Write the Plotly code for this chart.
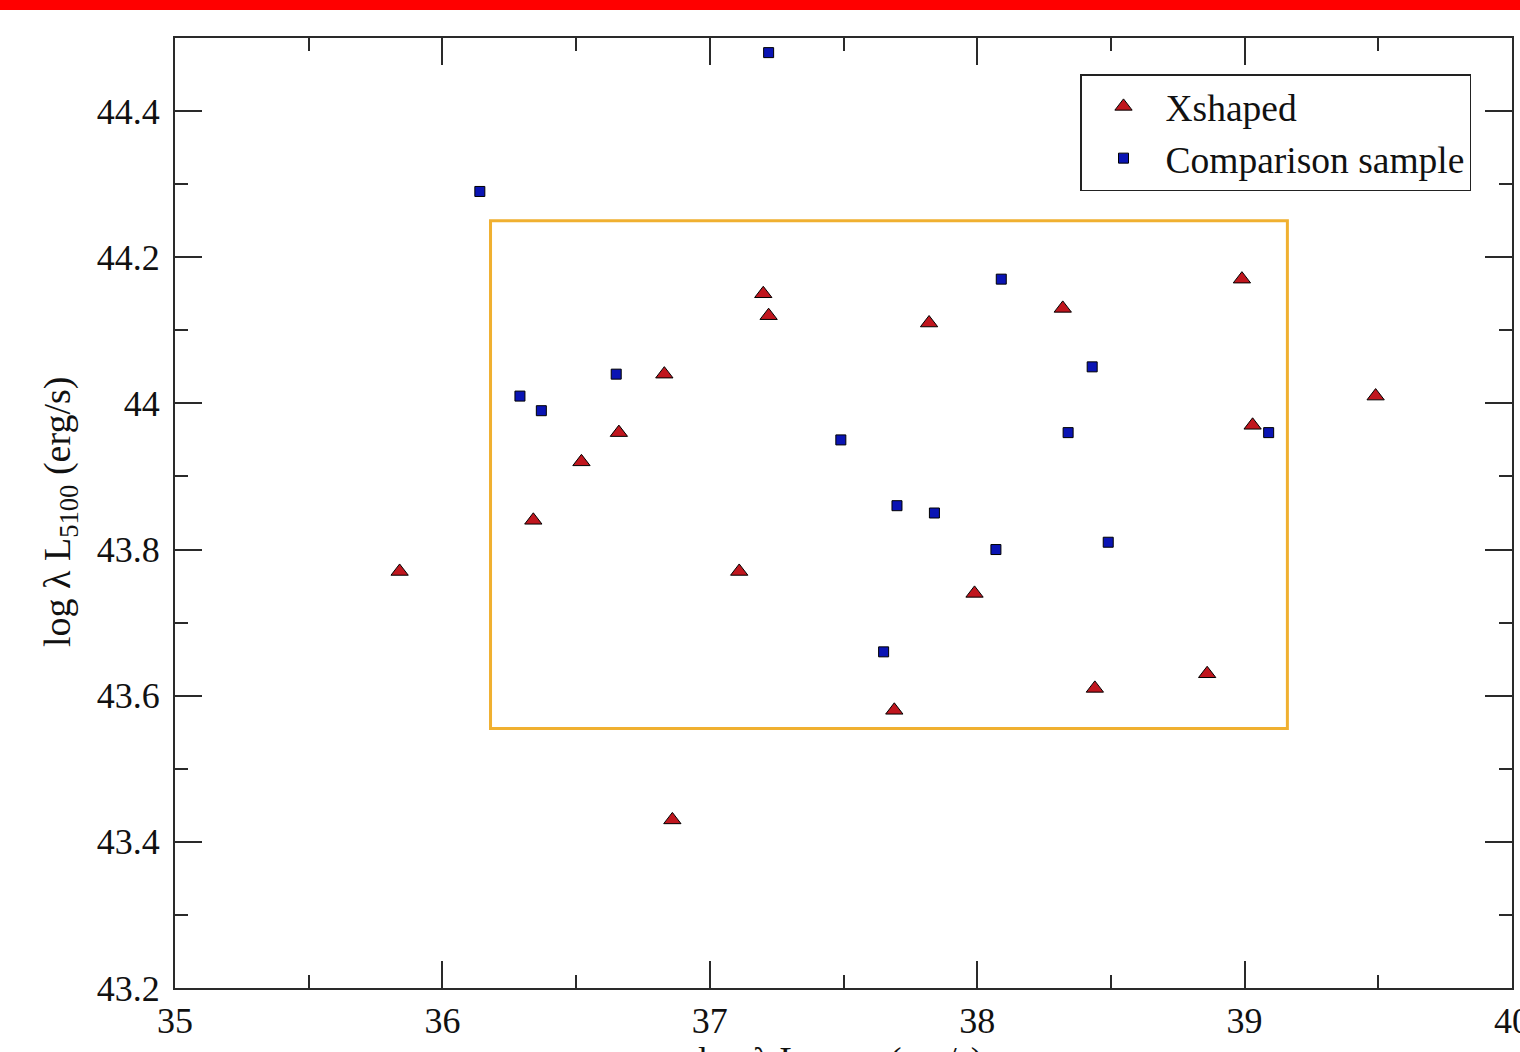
import plotly.graph_objects as go

# Xshaped sample
xs_x = [35.84, 36.34, 36.52, 36.66, 36.83, 36.86, 37.11, 37.20, 37.22, 37.69,
        37.82, 37.99, 38.32, 38.44, 38.86, 38.99, 39.03, 39.49]
xs_y = [43.77, 43.84, 43.92, 43.96, 44.04, 43.43, 43.77, 44.15, 44.12, 43.58,
        44.11, 43.74, 44.13, 43.61, 43.63, 44.17, 43.97, 44.01]

# Comparison sample
cs_x = [36.14, 36.29, 36.37, 36.65, 37.22, 37.49, 37.65, 37.70, 37.84, 38.07,
        38.09, 38.34, 38.43, 38.49, 39.09]
cs_y = [44.29, 44.01, 43.99, 44.04, 44.48, 43.95, 43.66, 43.86, 43.85, 43.80,
        44.17, 43.96, 44.05, 43.81, 43.96]

# highlighted region
box_x = [36.18, 39.16]
box_y = [43.555, 44.25]

x_ticks = [35, 36, 37, 38, 39, 40]
y_ticks = [43.2, 43.4, 43.6, 43.8, 44.0, 44.2, 44.4]
y_tick_text = ["43.2", "43.4", "43.6", "43.8", "44", "44.2", "44.4"]

FONT = "Liberation Serif"
W, H = 1520, 1052
ML, MR, MT, MB = 175, 8, 38, 64
PW, PH = W - ML - MR, H - MT - MB

fig = go.Figure()
fig.add_trace(go.Scatter(
    x=xs_x, y=xs_y, mode="markers", name="Xshaped",
    marker=dict(symbol="triangle-up", size=15, color="#c0161e",
                line=dict(color="black", width=1))))
fig.add_trace(go.Scatter(
    x=cs_x, y=cs_y, mode="markers", name="Comparison sample",
    marker=dict(symbol="square", size=10, color="#0a14b4",
                line=dict(color="black", width=1))))

fig.add_shape(type="rect", xref="x", yref="y",
              x0=box_x[0], x1=box_x[1], y0=box_y[0], y1=box_y[1],
              line=dict(color="#f0b030", width=3), layer="below")

# red banner at top of page
fig.add_shape(type="rect", xref="paper", yref="paper",
              x0=-ML / PW, x1=1 + MR / PW,
              y0=1 + (MT - 10) / PH, y1=1 + MT / PH,
              fillcolor="#ff0000", line=dict(width=0))

axis_common = dict(
    showgrid=False, zeroline=False, showline=True, linecolor="#2a2a2a",
    linewidth=2, mirror="allticks", ticks="inside", ticklen=27,
    tickwidth=1.5, tickcolor="#2a2a2a", ticklabeloverflow="allow",
    automargin=False,
    tickfont=dict(family=FONT, size=36, color="#111"),
)

fig.update_xaxes(range=[35, 40], tickvals=x_ticks,
                 ticktext=[str(v) for v in x_ticks],
                 minor=dict(dtick=0.5, ticks="inside", ticklen=13,
                            tickwidth=1.5, tickcolor="#2a2a2a"),
                 **axis_common)
fig.update_yaxes(range=[43.2, 44.5], tickvals=y_ticks, ticktext=y_tick_text,
                 ticklabelstandoff=6,
                 minor=dict(dtick=0.1, ticks="inside", ticklen=13,
                            tickwidth=1.5, tickcolor="#2a2a2a"),
                 **axis_common)

fig.add_annotation(text="log λ L<sub>5100</sub> (erg/s)", xref="paper",
                   yref="paper", x=(60 - ML) / PW, y=1 - (512 - MT) / PH,
                   textangle=-90, showarrow=False, xanchor="center",
                   yanchor="middle", font=dict(family=FONT, size=38, color="#111"))
fig.add_annotation(text="log λ L<sub>1.4GHz</sub> (erg/s)", xref="paper",
                   yref="paper", x=(840 - ML) / PW, y=1 - (1038 - MT) / PH,
                   showarrow=False, xanchor="center", yanchor="top",
                   font=dict(family=FONT, size=36, color="#111"))

fig.update_layout(
    width=W, height=H, autosize=False,
    margin=dict(l=ML, r=MR, t=MT, b=MB, autoexpand=False),
    paper_bgcolor="white", plot_bgcolor="white",
    font=dict(family=FONT, size=36, color="#111"),
    legend=dict(x=(1080 - ML) / PW, y=1 - (74 - MT) / PH,
                xanchor="left", yanchor="top",
                bgcolor="white", bordercolor="#222", borderwidth=1.5,
                font=dict(family=FONT, size=37.5, color="#111"),
                itemwidth=74, tracegroupgap=0,
                itemsizing="trace"),
    showlegend=True,
)

post = (
    "document.documentElement.style.overflow='hidden';"
    "document.body.style.margin='0';"
    "document.body.style.overflow='hidden';"
)

fig.write_html("out.html",
               config={"responsive": False, "displayModeBar": False},
               post_script=post)
